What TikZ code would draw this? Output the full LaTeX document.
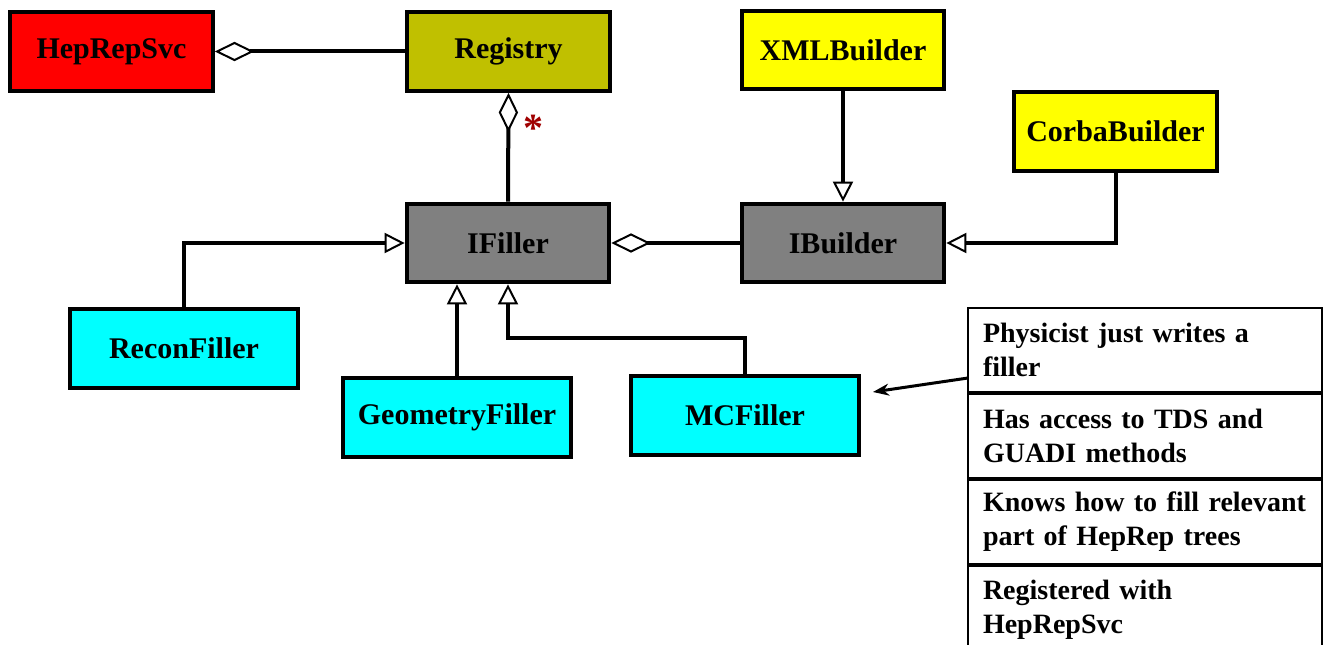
\documentclass[tikz,border=0pt]{standalone}
\usepackage{fontspec}
\setmainfont{Liberation Serif}
\usetikzlibrary{arrows.meta,positioning,calc}
\definecolor{svcred}{RGB}{255,0,0}
\definecolor{regolive}{RGB}{192,192,0}
\definecolor{bldyellow}{RGB}{255,255,0}
\definecolor{ifgray}{RGB}{128,128,128}
\definecolor{filcyan}{RGB}{0,255,255}
\definecolor{stardark}{RGB}{160,0,0}
\begin{document}
\begin{tikzpicture}[x=0.75pt,y=-0.75pt,
  cls/.style={draw, line width=3pt, minimum width=152pt, minimum height=59pt, inner sep=0pt,
    font=\bfseries\fontsize{22.5}{27}\selectfont},
  wcls/.style={cls, minimum width=171pt},
  conn/.style={line width=3pt},
  inh/.style={conn, -{Triangle[open, length=15pt, width=15pt, line width=1.5pt]}},
  agg/.style={conn, {Diamond[open, length=29.5pt, width=14.5pt, line width=1.5pt]}-},
  cell/.style={draw, line width=1.5pt, minimum width=265.5pt, minimum height=63pt,
    inner xsep=11pt, inner ysep=0pt, text width=243pt, align=left,
    font=\bfseries\fontsize{21}{25.5}\selectfont}]
\useasboundingbox (0,0) rectangle (1329,645);

% classes
\node[cls, fill=svcred]   (hep) at (111.5,51.5) {HepRepSvc};
\node[cls, fill=regolive] (reg) at (508.5,51.5) {Registry};
\node[cls, fill=bldyellow] (xml) at (843,50) {XMLBuilder};
\node[cls, fill=bldyellow] (cob) at (1115.5,131.5) {CorbaBuilder};
\node[cls, fill=ifgray]   (ifl) at (508,243) {IFiller};
\node[cls, fill=ifgray]   (ibl) at (843,243) {IBuilder};
\node[wcls, fill=filcyan] (rec) at (184,348.5) {ReconFiller};
\node[wcls, fill=filcyan] (geo) at (457,417.5) {GeometryFiller};
\node[wcls, fill=filcyan] (mcf) at (745,415.5) {MCFiller};

% connectors
\draw[agg] (hep.east) -- (reg.west);
\draw[agg] (reg.south) -- (ifl.north);
\node[text=stardark, font=\bfseries\fontsize{30}{30}\selectfont, inner sep=0pt] (star) at (533,128) {*};
\draw[agg] (ifl.east) -- (ibl.west);
\draw[inh] (xml.south) -- (ibl.north);
\draw[inh] (cob.south) |- (ibl.east);
\draw[inh] (rec.north) |- (ifl.west);
\draw[inh] (geo.north) -- (geo.north |- ifl.south);
\draw[inh] (mcf.north) |- ($(ifl.south)+(0,54)$) -- (ifl.south);

% note cells
\node[cell] (n1) at (1145,350) {Physicist just writes a\\filler};
\node[cell, below=0pt of n1] (n2) {Has access to TDS and\\GUADI methods};
\node[cell, below=0pt of n2] (n3) {Knows how to fill relevant\\part of HepRep trees};
\node[cell, below=0pt of n3, minimum height=66pt] (n4) {Registered with\\HepRepSvc};

\coordinate (ntail) at (968,378);
\coordinate (ntip) at (873,392);
\draw[line width=2.25pt, -{Stealth[length=12pt, width=9pt]}] (ntail) -- (ntip);
\end{tikzpicture}
\end{document}
